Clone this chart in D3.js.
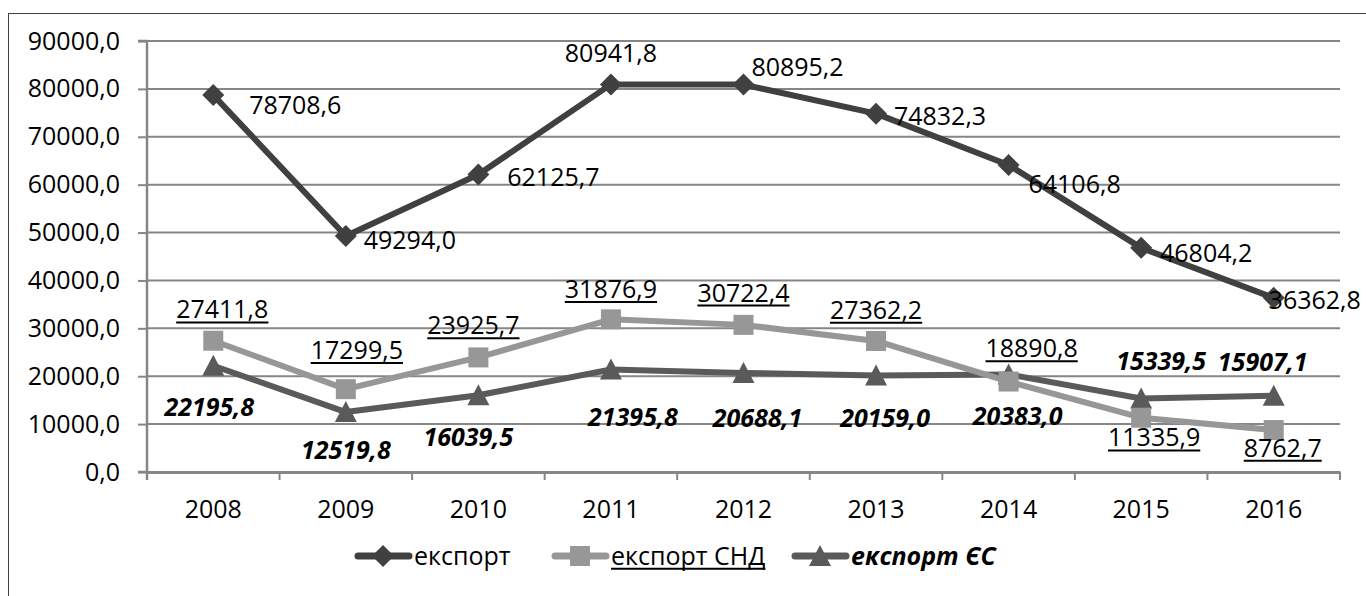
<!DOCTYPE html>
<html>
<head>
<meta charset="utf-8">
<script src="https://cdn.jsdelivr.net/npm/d3@7"></script>
<style>
  body { margin: 0; background: #fff; }
  text { font-family: "Open Sans", sans-serif; }
</style>
</head>
<body>
<div id="chart"></div>
<script>
var years = ['2008', '2009', '2010', '2011', '2012', '2013', '2014', '2015', '2016'];
var eksport = [78708.6, 49294.0, 62125.7, 80941.8, 80895.2, 74832.3, 64106.8, 46804.2, 36362.8];
var eksportSND = [27411.8, 17299.5, 23925.7, 31876.9, 30722.4, 27362.2, 18890.8, 11335.9, 8762.7];
var eksportES = [22195.8, 12519.8, 16039.5, 21395.8, 20688.1, 20159.0, 20383.0, 15339.5, 15907.1];
var yTicks = [0, 10000, 20000, 30000, 40000, 50000, 60000, 70000, 80000, 90000];
var seriesNames = ['експорт', 'експорт СНД', 'експорт ЄС'];

// label offsets (dx, dy) from each point, placed by hand like in the source chart
var posE = [[82, 10], [64, 4], [75, 3], [0, -31], [54, -17], [64, 3], [66, 19], [65, 5], [41, 2]];
var posS = [[9, -31], [11, -39], [-5, -32], [0, -30], [0, -32], [0, -31], [23, -33], [13, 20], [9, 18]];
var posC = [[-4, 42], [0, 38], [-10, 42], [22, 48], [14, 45], [9, 43], [9, 42], [20, -37], [-11, -34]];

var W = 1366, H = 596;
var margin = {top: 41, right: 26, bottom: 124, left: 147},
    width = W - margin.left - margin.right,
    height = H - margin.top - margin.bottom;

var svg = d3.select("#chart")
  .append("svg")
    .attr("width", W)
    .attr("height", H);

svg.append("rect")
  .attr("x", 8.5).attr("y", 13.5)
  .attr("width", 1400).attr("height", 700)
  .attr("fill", "none")
  .attr("stroke", "#404040")
  .attr("stroke-width", 1);

var g = svg.append("g")
  .attr("transform", "translate(" + margin.left + "," + margin.top + ")");

var x = d3.scaleBand().domain(years).range([0, width]);
var y = d3.scaleLinear().domain([0, 90000]).range([height, 0]);
var fmt = function(v) { return d3.format(".1f")(v).replace(".", ","); };

// gridlines
g.selectAll(".grid")
  .data(yTicks.slice(1))
  .enter().append("line")
    .attr("x1", 0).attr("x2", width)
    .attr("y1", function(d) { return y(d); })
    .attr("y2", function(d) { return y(d); })
    .attr("stroke", "#868686")
    .attr("stroke-width", 2);

// y axis
var yAxis = g.append("g")
  .call(d3.axisLeft(y).tickValues(yTicks).tickSize(9).tickPadding(18).tickFormat(fmt));
yAxis.select(".domain").attr("stroke", "#868686").attr("stroke-width", 2.5)
  .attr("d", "M-9," + y(0) + "H0V" + y(90000) + "H-9M0," + y(0) + "V" + (height + 8));
yAxis.selectAll(".tick line").attr("stroke", "#868686").attr("stroke-width", 2);
yAxis.selectAll(".tick text").attr("fill", "#000").style("font-size", "25px")
  .style("font-family", "Open Sans");

// x axis
var xAxis = g.append("g")
  .attr("transform", "translate(0," + height + ")")
  .call(d3.axisBottom(x).tickSize(0).tickPadding(28));
xAxis.select(".domain").attr("stroke", "#868686").attr("stroke-width", 3);
xAxis.selectAll(".tick text").attr("fill", "#000").style("font-size", "25px")
  .style("font-family", "Open Sans");
g.selectAll(".xtick")
  .data(years.concat(['end']))
  .enter().append("line")
    .attr("x1", function(d, i) { return i * x.step(); })
    .attr("x2", function(d, i) { return i * x.step(); })
    .attr("y1", height).attr("y2", height + 8)
    .attr("stroke", "#868686")
    .attr("stroke-width", 2);

function marker(type) {
  if (type == 'diamond') return "M0,-11L11,0L0,11L-11,0Z";
  if (type == 'square') return "M-10,-10H10V10H-10Z";
  return "M0,-11L11,10H-11Z";
}

// underline drawn by hand, lower and heavier than the browser's one
function underline(sel) {
  sel.each(function() {
    var b = this.getBBox();
    d3.select(this.parentNode).append("line")
      .attr("x1", b.x).attr("x2", b.x + b.width)
      .attr("y1", b.y + b.height - 3).attr("y2", b.y + b.height - 3)
      .attr("stroke", "#000")
      .attr("stroke-width", 2);
  });
}

var series = [
  {name: seriesNames[0], values: eksport, color: "#404040", mark: 'diamond', pos: posE, weight: "normal", style: "normal", under: false},
  {name: seriesNames[1], values: eksportSND, color: "#979797", mark: 'square', pos: posS, weight: "normal", style: "normal", under: true},
  {name: seriesNames[2], values: eksportES, color: "#5a5a5a", mark: 'triangle', pos: posC, weight: "bold", style: "italic", under: false}
];

var line = d3.line()
  .x(function(d, i) { return x(years[i]) + x.bandwidth() / 2; })
  .y(function(d) { return y(d); });

// draw back to front: ES under SND under export
[series[2], series[1], series[0]].forEach(function(s) {
  g.append("path")
    .datum(s.values)
    .attr("fill", "none")
    .attr("stroke", s.color)
    .attr("stroke-width", 6)
    .attr("stroke-linejoin", "round")
    .attr("d", line);
  g.selectAll(null)
    .data(s.values)
    .enter().append("path")
      .attr("transform", function(d, i) {
        return "translate(" + (x(years[i]) + x.bandwidth() / 2) + "," + y(d) + ")";
      })
      .attr("d", marker(s.mark))
      .attr("fill", s.color);
});

series.forEach(function(s) {
  var t = g.selectAll(null)
    .data(s.values)
    .enter().append("text")
      .attr("x", function(d, i) { return x(years[i]) + x.bandwidth() / 2 + s.pos[i][0]; })
      .attr("y", function(d, i) { return y(d) + s.pos[i][1]; })
      .attr("dy", "0.35em")
      .style("text-anchor", "middle")
      .style("font-size", "25px")
      .style("font-weight", s.weight)
      .style("font-style", s.style)
      .attr("fill", "#000")
      .text(fmt);
  if (s.under) underline(t);
});

// legend
var legendX = [355, 552, 792];
var legendY = 556;
series.forEach(function(s, i) {
  var lg = svg.append("g").attr("transform", "translate(" + legendX[i] + "," + legendY + ")");
  lg.append("line")
    .attr("x1", 3).attr("x2", 54)
    .attr("stroke", s.color)
    .attr("stroke-width", 7)
    .attr("stroke-linecap", "round");
  lg.append("path")
    .attr("transform", "translate(28,0)")
    .attr("d", marker(s.mark))
    .attr("fill", s.color);
  var t = lg.append("text")
    .attr("x", 59)
    .attr("dy", "0.35em")
    .style("font-size", "25px")
    .style("font-weight", s.weight)
    .style("font-style", s.style)
    .attr("fill", "#000")
    .text(s.name);
  if (s.under) underline(t);
});
</script>
</body>
</html>
